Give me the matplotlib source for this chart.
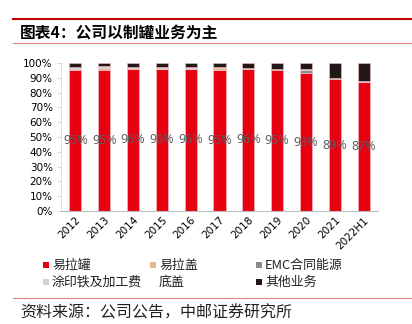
import numpy as np
import matplotlib
matplotlib.use("Agg")
import matplotlib.pyplot as plt
from matplotlib.lines import Line2D
from matplotlib.patches import Rectangle

plt.rcParams['font.family'] = ['Noto Sans CJK SC', 'DejaVu Sans']

# 数据
years = ["2012", "2013", "2014", "2015", "2016", "2017", "2018", "2019", "2020", "2021", "2022H1"]
can = [95, 95, 96, 96, 96, 95, 96, 95, 93, 89, 87]          # 易拉罐
lid = [0.7, 1.5, 0.3, 0.2, 0.2, 1.5, 0.2, 0.2, 0.2, 0.2, 0.2]  # 易拉盖
emc = [0.0, 0.0, 0.0, 0.0, 0.0, 0.0, 0.0, 0.6, 1.8, 0.6, 0.2]  # EMC合同能源
coat = [1.5, 1.5, 1.0, 1.0, 1.0, 1.0, 0.5, 0.4, 1.0, 0.4, 0.2]  # 涂印铁及加工费
base = [0, 0, 0, 0, 0, 0, 0, 0, 0, 0, 0]                        # 底盖
other = [2.8, 2.0, 2.7, 2.8, 2.8, 2.5, 3.3, 3.8, 4.0, 9.8, 12.4]  # 其他业务

names = ["易拉罐", "易拉盖", "EMC合同能源", "涂印铁及加工费", "底盖", "其他业务"]
colors = ["#e60012", "#e3b98a", "#8c8c8c", "#d3d3d3", "#ffffff", "#231815"]
series = [can, lid, emc, coat, base, other]

W, H = 412, 324
fig = plt.figure(figsize=(W / 100, H / 100), dpi=100)
ax = fig.add_axes([61 / W, 1 - 211 / H, (378 - 61) / W, (211 - 63) / H])

x = np.arange(len(years))
bottom = np.zeros(len(years))
for vals, c in zip(series, colors):
    ax.bar(x, vals, bottom=bottom, width=0.42, color=c, edgecolor="#f4c4c8", linewidth=0.4)
    bottom += np.array(vals)

for xi, v in zip(x, can):
    ax.text(xi, v / 2, f"{v}%", ha="center", va="center", fontsize=9, color="#5f5f5f",
            family="Noto Sans")

ax.set_ylim(0, 100)
ax.set_xlim(-0.5, len(years) - 0.5)
ax.set_yticks(np.arange(0, 101, 10))
ax.set_yticklabels([f"{v}%" for v in range(0, 101, 10)], fontsize=7.5, family="DejaVu Sans")
ax.set_xticks(x)
ax.set_xticklabels(years, rotation=45, ha="right", rotation_mode="anchor", fontsize=7.5, family="DejaVu Sans")
ax.tick_params(axis="y", length=3, width=0.6, color="#d0d0d0", pad=3)
ax.tick_params(axis="x", length=0, pad=3)
for s in ["top", "right"]:
    ax.spines[s].set_visible(False)
ax.spines["left"].set_color("#d9d9d9")
ax.spines["left"].set_linewidth(0.6)
ax.spines["bottom"].set_color("#bfbfbf")

# 图例（固定列宽）
col_x = [43, 150, 256]
row_y = [265, 282]
for i, (name, c) in enumerate(zip(names, colors)):
    r = 0 if i in (0, 1, 2) else 1
    col = i % 3
    px, py = col_x[col], row_y[r]
    fig.add_artist(Rectangle((px / W, 1 - (py + 2.7) / H), 5.5 / W, 5.5 / H,
                             transform=fig.transFigure, color=c, lw=0))
    fig.text((px + 9) / W, 1 - py / H, name, fontsize=9.3, va="center", color="#222222")

# 标题与线条
fig.add_artist(Line2D([13 / W, 1], [1 - 19 / H] * 2, color="#c00000", lw=1.5))
fig.text(20 / W, 1 - 33 / H, "图表4：公司以制罐业务为主", fontsize=11.3, fontweight="bold", va="center")
fig.add_artist(Line2D([13 / W, 1], [1 - 43 / H] * 2, color="#e08080", lw=0.8))
fig.add_artist(Line2D([13 / W, 1], [1 - 298 / H] * 2, color="#e08080", lw=0.8))
fig.text(20 / W, 1 - 313 / H, "资料来源：公司公告，中邮证券研究所", fontsize=11.5, va="center", color="#222222")

fig.savefig("out.png", dpi=100, facecolor="white")
